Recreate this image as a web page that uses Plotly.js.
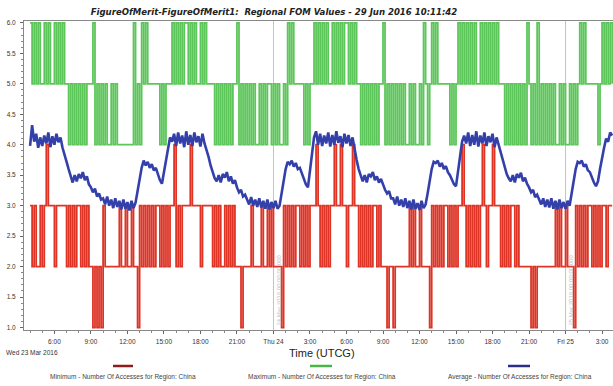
<!DOCTYPE html>
<html><head><meta charset="utf-8">
<script src="https://cdn.plot.ly/plotly-3.0.1.min.js"></script>
<style>html,body{margin:0;padding:0;background:#fff}#chart{width:613px;height:386px}</style>
</head><body><div id="chart"></div>
<script>
// Regular report grid: first sample and step between samples
const seriesStart = '2016-03-23T04:00:00Z';
const stepMinutes = 10;

// Maximum - Number Of Accesses for Region: China
const maxValues = [
 6,5,6,5,6,5,5,6,5,6,5,5,6,5,6,5,6, 5,5, 4,5,4,5,4,5,4,5,4,5, 5,5, 6, 4,5,4,5,4,5,4,4,5,4,5,4, 4,4,4,4,4,4,4, 6, 4,5,4, 6,5,6,5, 5,5,5,5,5, 4,5,4,5, 5,5,
 6,5,6,5,6,5,6,6,5,6,5,6,5,5,6,5,6,5, 5,5,5, 4,5,4,5,4,5,4,5,4,5, 5, 6, 4,5,4,5,4,5,4,5,4,4,5,4,5,4,5,5,4,5,4,5,4,4,5,4, 6,5,6, 5,5,5,5,5, 4,5,4, 5,5,
 6,5,6,5,6,5,6,5,5,6,5,6,5,6,5,6,6,5,6,5,6, 5,5, 4,5,4,5,4,5,4,5,4,5, 5, 6, 4,5,4,5,4,5,4,5,4,5, 4,4,5,4,5,4,4,5,4,6,5,4,5, 6,5,6, 5,5,5,5,5,5, 4,5,4, 5,
 6,5,6,5,6,5,6,5,6,5,5,6,5,6,5,6,5,6,5,6,5, 5,5, 4,5,4,5,4,5,4,5,4,5,4, 6,5, 4,5,4,6,4,5,4,5,4,5,4,5, 4,4,5,4,5,4,4,5,4,5,4, 5, 6,5,6, 5,5,5,5,5,5, 4,5, 6,5,6,5,6,5
];

// Minimum - Number Of Accesses for Region: China
const minValues = [
 3,2,3,2,2,3,2,3, 4, 3,3,3, 2,3, 3,3,3,3, 2,3,2,3,2,3,3,2,3,2,3,2, 2, 1,2,1,2,1, 3, 2,2,2,2,2,2,2, 3, 2,2, 3, 2,2, 3, 2,2, 1, 3,2,3,2,3,2,3,2,3,3,2,3,2,3,2,3,
 3,4, 2,3,2,3, 3,3,3, 4, 3,3,3,3, 2,3, 3,3,3,3, 2,3,2,3,2,2,3,2,3,2,3,2, 2,2,1,2,2,2,2,3,2,2,2,2,3,2,2,3,2,3,2,2,2,2,1, 3,2,3,2,3,2,3,3,2,3,2,3,2,3,3,
 3,4,3,2,3,2,3,2,3,3,4,3,3,4,3,3,2,3,3,4,3,3, 2,3,2,3,2,3,2,3,3,2,3,2, 2,2,1,2,2,1, 2,2,2,2,2,2,2,3,2,3,2,2,3,2,2,2,2, 1, 3,2,3,2,3,2,3,3,2,3,2,3,2,
 3,3,4,3,2,3,2,3,2,3,2,3,4,3,2,3,3,4,3,3,3, 2,3,2,3,2,3,3,2,3,2, 2,2,2,2,2,1,2,1,2,2,2,2,2,2,2,2,2, 3,2,3,2,2,3,2, 2,2,1, 3,2,3,2,3,2,3,3,2,3,2,3,2, 3,3,2,3,3,3
];

// Average - Number Of Accesses for Region: China
const avgValues = [
 3.98,4.32,4.05,4.18,3.95,4.12,3.98,4.15,4.02,4.2,3.96,4.14,4.0,4.18,4.04,4.12, 3.95,3.85,3.72,3.6,3.48, 3.38,3.5,3.4,3.52,3.45,3.55,3.42,3.48,3.35, 3.3,3.22,3.28,3.15,3.2,3.1, 3.12,3.02,3.15,3.0,3.1,2.96,3.12,2.98,3.08,2.94,3.1,2.95,3.06,2.92,3.08,2.96, 3.05,3.25,3.45,3.62,3.74, 3.66,3.72,3.62,3.68,3.58,3.62,3.5,3.42, 3.36, 3.55,3.78,3.98,4.12,
 4.05,4.18,3.98,4.2,4.02,4.15,3.96,4.22,4.0,4.16,3.98,4.2,4.04,4.14,3.97,4.18,4.02, 3.92,3.8,3.66,3.55,3.45, 3.4,3.5,3.38,3.52,3.46,3.55,3.4,3.48,3.36,3.42, 3.3,3.22,3.26,3.15,3.18, 3.1,3.02,3.14,3.0,3.1,2.98,3.12,2.97,3.08,2.95,3.1,2.94,3.06,2.96,3.08,2.95,3.0, 3.2,3.42,3.6,3.72,3.68, 3.74,3.64,3.7,3.6,3.62,3.52,3.45, 3.35,3.3, 3.6,3.9,
 4.12,4.22,4.0,4.18,3.98,4.15,4.02,4.2,3.97,4.16,4.0,4.22,4.03,4.14,3.96,4.18,4.02,4.16,3.98,4.12, 3.9,3.75,3.6,3.48, 3.4,3.5,3.38,3.52,3.48,3.55,3.42,3.48,3.38,3.44,3.34, 3.26,3.2,3.24,3.12, 3.12,3.02,3.15,3.0,3.1,2.98,3.12,2.96,3.08,2.94,3.1,2.95,3.04,2.93,3.08,2.96,3.02, 3.2,3.42,3.6,3.72,3.7, 3.74,3.64,3.7,3.6,3.65,3.55,3.5,3.42, 3.35,3.32,
 3.58,3.85,4.05,4.15, 4.02,4.2,3.98,4.16,4.0,4.22,3.97,4.15,4.02,4.2,3.98,4.14,4.04,4.18,3.96,4.12,4.0, 3.9,3.78,3.64,3.52,3.45, 3.4,3.5,3.38,3.52,3.46,3.54,3.4,3.46,3.36, 3.3,3.22,3.26,3.14,3.18, 3.1,3.02,3.12,2.98,3.1,2.97,3.12,2.95,3.08,2.94,3.1,2.96,3.06,2.95,3.08,3.0, 3.2,3.42,3.6,3.72,3.7, 3.74,3.64,3.68,3.58,3.55,3.45, 3.38,3.32,3.4, 3.6,3.8,3.95,4.1,4.05,4.2,4.15
];

const tickTimes = ['2016-03-23 06:00','2016-03-23 09:00','2016-03-23 12:00','2016-03-23 15:00','2016-03-23 18:00','2016-03-23 21:00','2016-03-24 00:00','2016-03-24 03:00','2016-03-24 06:00','2016-03-24 09:00','2016-03-24 12:00','2016-03-24 15:00','2016-03-24 18:00','2016-03-24 21:00','2016-03-25 00:00','2016-03-25 03:00'];
const tickLabels = ['6:00','9:00','12:00','15:00','18:00','21:00','Thu 24','3:00','6:00','9:00','12:00','15:00','18:00','21:00','Fri 25','3:00'];
const dayLines = ['2016-03-24 00:00','2016-03-25 00:00'];
const dayStamps = ['24 Mar 2016 00:00:00.000','25 Mar 2016 00:00:00.000'];
const legendNames = ['Minimum - Number Of Accesses for Region: China','Maximum - Number Of Accesses for Region: China','Average - Number Of Accesses for Region: China'];
const legendColors = ['#8e1c1c','#49b449','#2c2c8a'];

const t0 = Date.parse(seriesStart);
function timeAt(i){ return new Date(t0 + i*stepMinutes*60000).toISOString().slice(0,16).replace('T',' '); }
const times = (n)=>Array.from({length:n},(_,i)=>timeAt(i));

const font = 'Liberation Sans, Arial, sans-serif';
const traces = [
 {x: times(maxValues.length), y: maxValues, type:'scatter', mode:'lines', line:{shape:'hv', color:'#5cc65a', width:1.8}, hoverinfo:'skip'},
 {x: times(minValues.length), y: minValues, type:'scatter', mode:'lines', line:{shape:'hv', color:'#dd3426', width:1.8}, hoverinfo:'skip'},
 {x: times(avgValues.length), y: avgValues, type:'scatter', mode:'lines', line:{color:'#3340aa', width:2.6}, hoverinfo:'skip'}
];

// plot-area pixel helpers for placement of legend/labels
const L=24, W=589, T=21, H=309;
const px = v => (v-L)/W;
const py = v => (T+H-v)/H;

const shapes = dayLines.map(d=>({type:'line', xref:'x', yref:'paper', x0:d, x1:d, y0:0, y1:1, line:{color:'#c4c4c4', width:1}, layer:'below'}));
const legendX = [[113,133],[310,332],[508,530]];
legendX.forEach((r,i)=>shapes.push({type:'line', xref:'paper', yref:'paper', x0:px(r[0]), x1:px(r[1]), y0:py(366), y1:py(366), line:{color:legendColors[i], width:2.5}}));

const annotations = [
 {xref:'paper', yref:'paper', x:px(322), y:py(353), text:'Time (UTCG)', showarrow:false, xanchor:'center', yanchor:'middle', font:{family:font, size:11, color:'#222'}},
 {xref:'paper', yref:'paper', x:px(4), y:py(352), text:'Wed 23 Mar 2016', showarrow:false, xanchor:'left', yanchor:'middle', font:{family:font, size:6.5, color:'#333'}}
];
[123,322,520].forEach((c,i)=>annotations.push({xref:'paper', yref:'paper', x:px(c), y:py(377), text:legendNames[i], showarrow:false, xanchor:'center', yanchor:'middle', font:{family:font, size:6.5, color:'#444'}}));
dayLines.forEach((d,i)=>annotations.push({xref:'x', yref:'y', x:d, y:1.0, text:dayStamps[i], textangle:-90, showarrow:false, xanchor:'left', yanchor:'bottom', xshift:1, font:{family:font, size:6, color:'#c0c0c0'}}));

const layout = {
 width:613, height:386,
 margin:{l:L, r:0, t:T, b:386-T-H, pad:0},
 paper_bgcolor:'#fff', plot_bgcolor:'#fff',
 showlegend:false,
 title:{text:'FigureOfMerit-FigureOfMerit1:  Regional FOM Values - 29 Jun 2016 10:11:42', xref:'container', yref:'container', x:274/613, xanchor:'center', y:1-12/386, yanchor:'middle',
   font:{family:'Liberation Sans Narrow, DejaVu Sans Condensed, Liberation Sans, sans-serif', size:9.5, style:'italic', weight:'bold', color:'#222'}},
 xaxis:{type:'date', range:['2016-03-23 03:30','2016-03-25 03:54'], tickmode:'array', tickvals:tickTimes, ticktext:tickLabels,
   showgrid:false, zeroline:false, showline:true, linecolor:'#888', linewidth:1, mirror:true,
   ticks:'outside', ticklen:3, tickcolor:'#666', ticklabelstandoff:2,
   minor:{tickmode:'linear', tick0:'2016-03-23 00:00', dtick:3600000, ticks:'outside', ticklen:2, tickcolor:'#888'},
   tickfont:{family:font, size:6.5, color:'#333'}},
 yaxis:{range:[0.96,6.03], tick0:1, dtick:0.5, tickformat:'.1f', showgrid:false, zeroline:false, showline:true, linecolor:'#888', linewidth:1,
   ticks:'outside', ticklen:3, tickcolor:'#666', ticklabelstandoff:3,
   minor:{dtick:0.1, ticks:'outside', ticklen:2, tickcolor:'#888'},
   tickfont:{family:font, size:6.5, color:'#333'}},
 shapes: shapes,
 annotations: annotations
};
Plotly.newPlot('chart', traces, layout, {displayModeBar:false, staticPlot:true});
</script></body></html>
